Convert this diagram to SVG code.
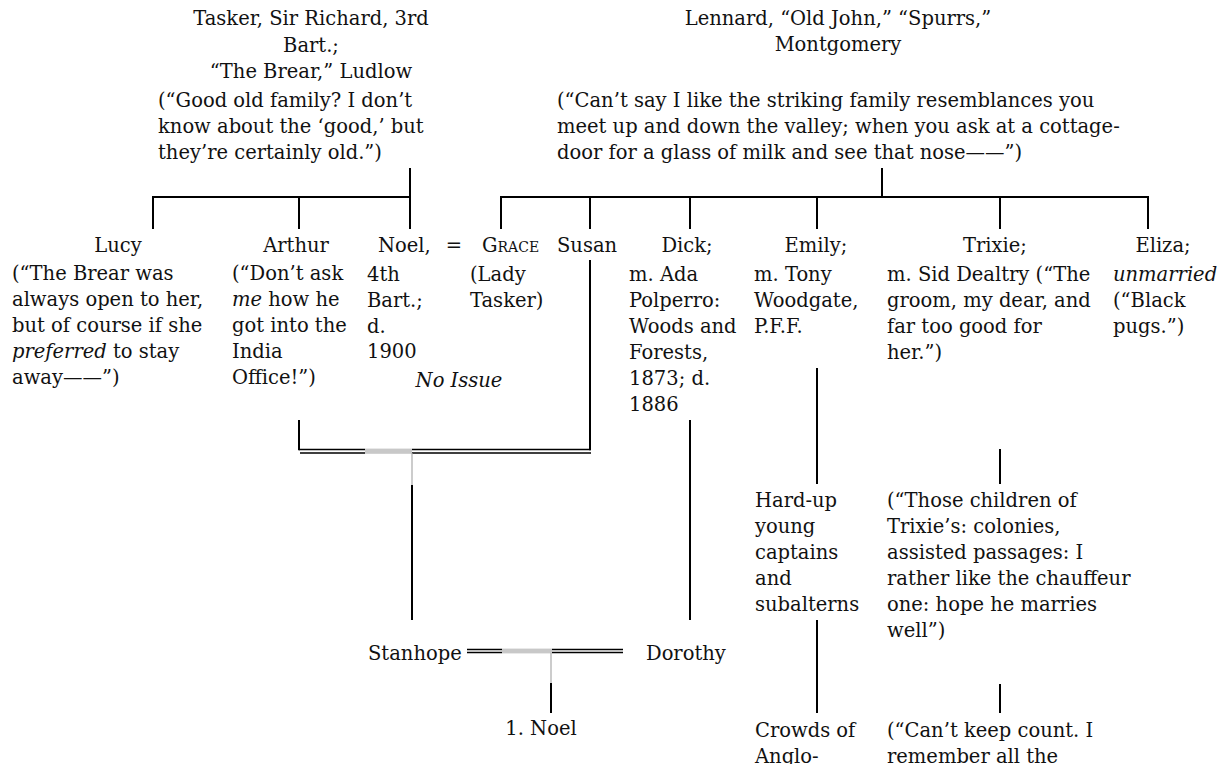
<svg xmlns="http://www.w3.org/2000/svg" width="1225" height="764" viewBox="0 0 1225 764">
<style>
text{font-family:"DejaVu Serif","Liberation Serif",serif;font-size:19.5px;fill:#111}
.c{text-anchor:middle}
.i{font-style:italic}
.sc{font-variant:small-caps}
.ln{stroke:#000;stroke-width:2;fill:none}
.db{stroke:#000;stroke-width:1.4;fill:none}
.gy{stroke:#aaa;fill:none}
</style>
<rect width="1225" height="764" fill="#fff"/>
<g id="connectors">
<path class="ln" d="M410,168V197M153,229V197H411M299,197V229M410,197V229"/>
<path class="ln" d="M882,168V197M501,229V197H1149M590,197V229M690,197V229M817,197V229M1000,197V229M1148,197V229"/>
<path class="ln" d="M299,420V450.2M590,260V450.2"/>
<path class="db" d="M299,449.5H365M412,449.5H590.7M300,453H365M412,453H591"/>
<rect x="365" y="448.6" width="47" height="5.2" fill="#c8c8c8"/>
<path class="gy" stroke-width="1.2" d="M412,453V485"/>
<path class="ln" d="M412,485V620"/>
<path class="ln" d="M690,420V620"/>
<path class="db" d="M467,649.5H502M552,649.5H623M467,652.5H502M552,652.5H623"/>
<rect x="502" y="648.6" width="50" height="4.8" fill="#c8c8c8"/>
<path class="gy" stroke-width="1.2" d="M551,653V683"/>
<path class="ln" d="M551,683V713"/>
<path class="ln" d="M817,368V484M817,620V713"/>
<path class="ln" d="M1000,449V484M1000,684V713"/>
</g>
<g id="tasker">
<text class="c" x="311" y="25">Tasker, Sir Richard, 3rd</text>
<text class="c" x="311" y="52">Bart.;</text>
<text class="c" x="311" y="78">“The Brear,” Ludlow</text>
<text x="158" y="107">(“Good old family? I don’t</text>
<text x="158" y="133">know about the ‘good,’ but</text>
<text x="158" y="159">they’re certainly old.”)</text>
</g>
<g id="lennard">
<text class="c" x="838" y="25">Lennard, “Old John,” “Spurrs,”</text>
<text class="c" x="838" y="51">Montgomery</text>
<text x="557" y="107">(“Can’t say I like the striking family resemblances you</text>
<text x="557" y="133">meet up and down the valley; when you ask at a cottage-</text>
<text x="557" y="159">door for a glass of milk and see that nose——”)</text>
</g>
<g id="lucy">
<text class="c" x="118" y="252">Lucy</text>
<text x="12" y="280">(“The Brear was</text>
<text x="12" y="306">always open to her,</text>
<text x="12" y="332">but of course if she</text>
<text x="12" y="358"><tspan class="i">preferred</tspan> to stay</text>
<text x="12" y="384">away——”)</text>
</g>
<g id="arthur">
<text class="c" x="296" y="252">Arthur</text>
<text x="232" y="280">(“Don’t ask</text>
<text x="232" y="306"><tspan class="i">me</tspan> how he</text>
<text x="232" y="332">got into the</text>
<text x="232" y="358">India</text>
<text x="232" y="384">Office!”)</text>
</g>
<g id="noel">
<text x="378" y="252">Noel,</text>
<text x="367" y="281">4th</text>
<text x="367" y="307">Bart.;</text>
<text x="367" y="333">d.</text>
<text x="367" y="358">1900</text>
</g>
<g id="marriage-noel-grace">
<text class="c" x="454" y="252">=</text>
<text class="c i" x="459" y="387">No Issue</text>
</g>
<g id="grace">
<text class="sc" x="482" y="252">Grace</text>
<text x="470" y="281">(Lady</text>
<text x="470" y="307">Tasker)</text>
</g>
<g id="susan">
<text x="557" y="252">Susan</text>
</g>
<g id="dick">
<text class="c" x="687" y="252">Dick;</text>
<text x="629" y="281">m. Ada</text>
<text x="629" y="307">Polperro:</text>
<text x="629" y="333">Woods and</text>
<text x="629" y="359">Forests,</text>
<text x="629" y="385">1873; d.</text>
<text x="629" y="411">1886</text>
</g>
<g id="emily">
<text class="c" x="816" y="252">Emily;</text>
<text x="754" y="281">m. Tony</text>
<text x="754" y="307">Woodgate,</text>
<text x="754" y="333">P.F.F.</text>
</g>
<g id="trixie">
<text class="c" x="995" y="252">Trixie;</text>
<text x="887" y="281">m. Sid Dealtry (“The</text>
<text x="887" y="307">groom, my dear, and</text>
<text x="887" y="333">far too good for</text>
<text x="887" y="359">her.”)</text>
</g>
<g id="eliza">
<text class="c" x="1163" y="252">Eliza;</text>
<text class="i" x="1113" y="281">unmarried</text>
<text x="1113" y="307">(“Black</text>
<text x="1113" y="333">pugs.”)</text>
</g>
<g id="hardup">
<text x="755" y="507">Hard-up</text>
<text x="755" y="533">young</text>
<text x="755" y="559">captains</text>
<text x="755" y="585">and</text>
<text x="755" y="611">subalterns</text>
</g>
<g id="trixie-children">
<text x="887" y="507">(“Those children of</text>
<text x="887" y="533">Trixie’s: colonies,</text>
<text x="887" y="559">assisted passages: I</text>
<text x="887" y="585">rather like the chauffeur</text>
<text x="887" y="611">one: hope he marries</text>
<text x="887" y="637">well”)</text>
</g>
<g id="crowds">
<text x="755" y="737">Crowds of</text>
<text x="755" y="763">Anglo-</text>
</g>
<g id="count">
<text x="887" y="737">(“Can’t keep count. I</text>
<text x="887" y="763">remember all the</text>
</g>
<g id="stanhope">
<text x="368" y="660">Stanhope</text>
</g>
<g id="dorothy">
<text x="646" y="660">Dorothy</text>
</g>
<g id="noel-1">
<text class="c" x="541" y="735">1. Noel</text>
</g>
</svg>
